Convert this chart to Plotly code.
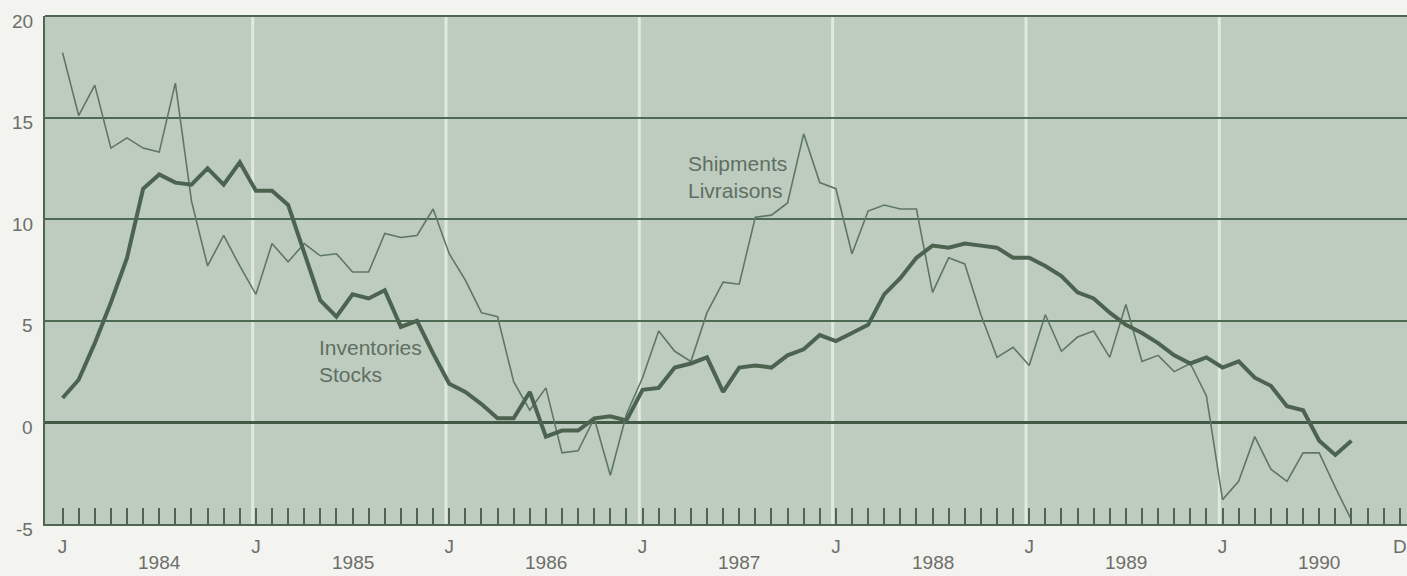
import plotly.graph_objects as go

# Months since January 1984 (0 = Jan 1984)
months = list(range(81))

shipments = [18.2, 15.1, 16.6, 13.5, 14.0, 13.5, 13.3, 16.7, 10.9, 7.7,
             9.2, 7.7, 6.3, 8.8, 7.9, 8.8, 8.2, 8.3, 7.4, 7.4,
             9.3, 9.1, 9.2, 10.5, 8.3, 7.0, 5.4, 5.2, 2.0, 0.6,
             1.7, -1.5, -1.4, 0.2, -2.6, 0.4, 2.2, 4.5, 3.5, 3.0,
             5.4, 6.9, 6.8, 10.1, 10.2, 10.8, 14.2, 11.8, 11.5, 8.3,
             10.4, 10.7, 10.5, 10.5, 6.4, 8.1, 7.8, 5.3, 3.2, 3.7,
             2.8, 5.3, 3.5, 4.2, 4.5, 3.2, 5.8, 3.0, 3.3, 2.5,
             2.9, 1.3, -3.8, -2.9, -0.7, -2.3, -2.9, -1.5, -1.5, -3.2,
             -4.8]

inventories = [1.2, 2.1, 3.9, 5.9, 8.1, 11.5, 12.2, 11.8, 11.7, 12.5,
               11.7, 12.8, 11.4, 11.4, 10.7, 8.4, 6.0, 5.2, 6.3, 6.1,
               6.5, 4.7, 5.0, 3.4, 1.9, 1.5, 0.9, 0.2, 0.2, 1.5,
               -0.7, -0.4, -0.4, 0.2, 0.3, 0.1, 1.6, 1.7, 2.7, 2.9,
               3.2, 1.5, 2.7, 2.8, 2.7, 3.3, 3.6, 4.3, 4.0, 4.4,
               4.8, 6.3, 7.1, 8.1, 8.7, 8.6, 8.8, 8.7, 8.6, 8.1,
               8.1, 7.7, 7.2, 6.4, 6.1, 5.4, 4.8, 4.4, 3.9, 3.3,
               2.9, 3.2, 2.7, 3.0, 2.2, 1.8, 0.8, 0.6, -0.9, -1.6,
               -0.9]

tick_months = list(range(84))
tick_text = {0: "J", 12: "J", 24: "J", 36: "J", 48: "J", 60: "J", 72: "J", 83: "D"}
years = ["1984", "1985", "1986", "1987", "1988", "1989", "1990"]
year_pos = [6, 18, 30, 42, 54, 66, 78]
y_ticks = [-5, 0, 5, 10, 15, 20]
y_labels = ["-5", "0", "5", "10", "15", "20"]

DARK = "#4f6652"
TXT = "#6c6f6a"

fig = go.Figure()
fig.add_trace(go.Scatter(x=months, y=shipments, mode="lines",
                         line=dict(color="#5f7762", width=1.6), name="Shipments"))
fig.add_trace(go.Scatter(x=months, y=inventories, mode="lines",
                         line=dict(color="#4c6350", width=4), name="Inventories"))

shapes = []
for k in range(1, 7):
    shapes.append(dict(type="line", xref="x", yref="paper", x0=12 * k - 0.2, x1=12 * k - 0.2,
                       y0=0, y1=1, line=dict(color="#dfe9df", width=3), layer="below"))
shapes.append(dict(type="line", xref="paper", yref="paper", x0=0, x1=1, y0=1, y1=1,
                   line=dict(color=DARK, width=2)))

annotations = []
for yr, p in zip(years, year_pos):
    annotations.append(dict(x=p, y=0, xref="x", yref="paper", text=yr, showarrow=False,
                            yanchor="top", yshift=-27, borderpad=0,
                            font=dict(size=19, color=TXT)))
for v, lab in zip(y_ticks, y_labels):
    annotations.append(dict(x=0, y=v, xref="paper", yref="y", text=lab, showarrow=False,
                            xanchor="right", xshift=-10, yshift=-5,
                            font=dict(size=19, color=TXT)))
annotations.append(dict(x=38.7, y=12.1, xref="x", yref="y", text="Shipments<br>Livraisons",
                        showarrow=False, xanchor="left", align="left",
                        font=dict(size=21, color="#5f6f62")))
annotations.append(dict(x=15.8, y=3.0, xref="x", yref="y", text="Inventories<br>Stocks",
                        showarrow=False, xanchor="left", align="left",
                        font=dict(size=21, color="#5f6f62")))

fig.update_layout(
    width=1407, height=576,
    margin=dict(l=45, r=0, t=16, b=52, autoexpand=False),
    paper_bgcolor="#f3f3ef",
    plot_bgcolor="#bdccbf",
    showlegend=False,
    font=dict(family="Liberation Sans, Arial, sans-serif", size=19, color=TXT),
    shapes=shapes,
    annotations=annotations,
    xaxis=dict(range=[-1.09, 83.45], tickmode="array", tickvals=tick_months,
               ticktext=[tick_text.get(m, "") for m in tick_months],
               ticks="inside", ticklen=16, tickwidth=2, tickcolor=DARK,
               showgrid=False, zeroline=False, showline=True, linecolor=DARK, linewidth=2,
               automargin=False,
               ticklabelstandoff=4, tickfont=dict(size=19, color=TXT)),
    yaxis=dict(range=[-5, 20], tickmode="array", tickvals=y_ticks, showticklabels=False,
               showgrid=True, gridcolor="#4d6b52", gridwidth=2,
               zeroline=True, zerolinecolor="#435a47", zerolinewidth=3,
               showline=True, linecolor=DARK, linewidth=2, ticks="",
               automargin=False),
)

post = ("document.documentElement.style.margin='0';"
        "document.body.style.margin='0';"
        "document.body.style.padding='0';"
        "document.body.style.overflow='hidden';"
        "var gd=document.getElementById('{plot_id}');"
        "Plotly.relayout(gd,{width:1407,height:576});")

fig.write_html("out.html", post_script=post, config={"displayModeBar": False})
